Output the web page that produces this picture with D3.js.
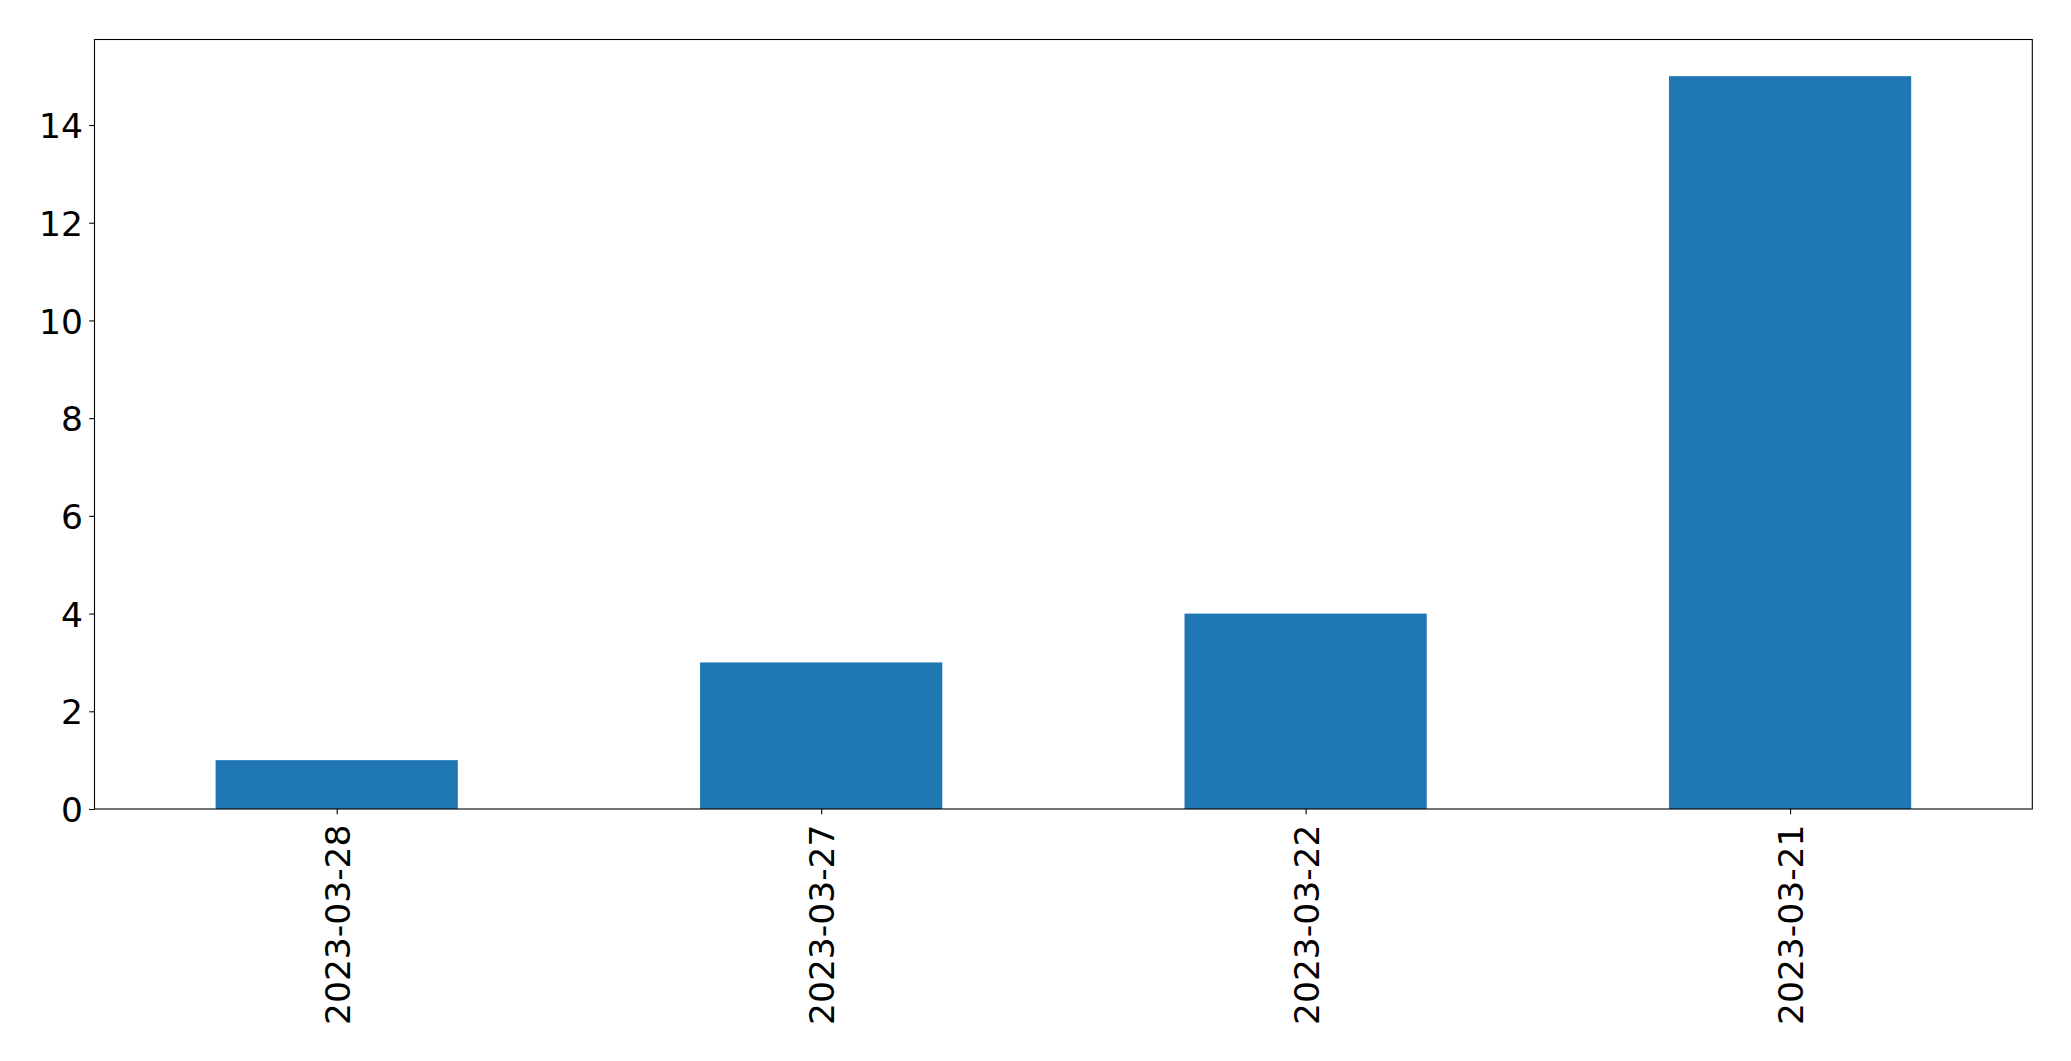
<!DOCTYPE html>
<html>
<head>
<meta charset="utf-8">
<script src="https://cdn.jsdelivr.net/npm/d3@7"></script>
<style>
  html, body { margin: 0; padding: 0; background: #fff; }
  svg { display: block; }
  text { font-family: "DejaVu Sans", sans-serif; fill: #000; }
</style>
</head>
<body>
<svg id="chart" width="2071" height="1061"></svg>
<script>
const categories = ["2023-03-28", "2023-03-27", "2023-03-22", "2023-03-21"];
const values = [1, 3, 4, 15];
const yTicks = [0, 2, 4, 6, 8, 10, 12, 14];

(function () {
const mLeft = 94.5, mRight = 2032.3, mTop = 39.5, mBottom = 809;
const fontSize = 34.5;
const svg = d3.select("#chart");

const x = d3.scaleLinear().domain([-0.5, categories.length - 0.5]).range([mLeft, mRight]);
const y = d3.scaleLinear().domain([0, d3.max(values) * 1.05]).range([mBottom, mTop]);

// bars
svg.append("g").selectAll("rect").data(values).join("rect")
  .attr("x", (d, i) => x(i - 0.25))
  .attr("width", (d, i) => x(i + 0.25) - x(i - 0.25))
  .attr("y", d => y(d))
  .attr("height", d => y(0) - y(d))
  .attr("fill", "#1f77b4");

// y axis
const yAxis = d3.axisLeft(y).tickValues(yTicks).tickFormat(d3.format("d")).tickSize(5.3).tickPadding(8);
const gy = svg.append("g").attr("transform", `translate(${mLeft},0)`).call(yAxis);
gy.select(".domain").remove();
gy.selectAll("line").attr("stroke", "#000").attr("stroke-width", 1.1);
gy.selectAll("text").attr("font-size", fontSize).attr("font-family", "DejaVu Sans")
  .attr("dy", "0.365em").attr("x", -(mLeft - 83));

// x axis
const xAxis = d3.axisBottom(x).tickValues(d3.range(categories.length)).tickFormat(i => categories[i]).tickSize(5.3);
const gx = svg.append("g").attr("transform", `translate(0,${mBottom})`).call(xAxis);
gx.select(".domain").remove();
gx.selectAll("line").attr("stroke", "#000").attr("stroke-width", 1.1);
gx.selectAll("text").attr("font-size", fontSize).attr("font-family", "DejaVu Sans")
  .attr("text-anchor", "end")
  .attr("y", 0).attr("x", 0)
  .attr("dy", "0.365em")
  .attr("transform", "translate(0,15.5) rotate(-90)");

// frame
svg.append("rect")
  .attr("x", mLeft).attr("y", mTop)
  .attr("width", mRight - mLeft).attr("height", mBottom - mTop)
  .attr("fill", "none").attr("stroke", "#000").attr("stroke-width", 1.1);
})();
</script>
</body>
</html>
